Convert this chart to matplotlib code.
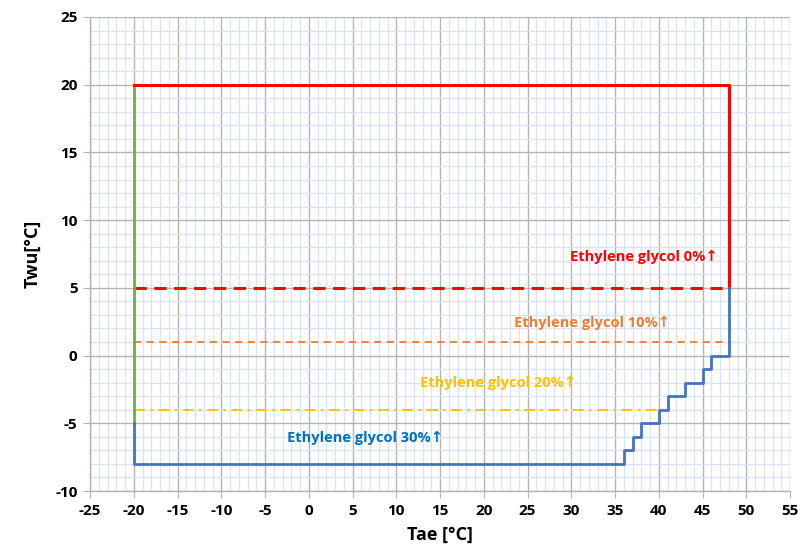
import matplotlib
matplotlib.use('Agg')
import matplotlib.pyplot as plt
from matplotlib.ticker import MultipleLocator

plt.rcParams['font.family'] = ['Open Sans', 'DejaVu Sans']
plt.rcParams['axes.unicode_minus'] = False

# --- data ---
tae_limits = [-25, 55]
twu_limits = [-10, 25]

# red envelope (0% glycol)
red_x = [-20, 48, 48]
red_y = [20, 20, 5]
# green left edge
green_x = [-20, -20]
green_y = [20, -5]
# dashed limit lines
gly0_x, gly0_y = [-20, 48], [5, 5]
gly10_x, gly10_y = [-20, 48], [1, 1]
gly20_x, gly20_y = [-20, 40], [-4, -4]
# blue staircase (30% glycol)
blue_x = [-20, -20, 36, 36, 37, 37, 38, 38, 40, 40, 41, 41, 43, 43, 45, 45, 46, 46, 48, 48]
blue_y = [-5, -8, -8, -7, -7, -6, -6, -5, -5, -4, -4, -3, -3, -2, -2, -1, -1, 0, 0, 5]

labels = ['Ethylene glycol 0%↑', 'Ethylene glycol 10%↑', 'Ethylene glycol 20%↑', 'Ethylene glycol 30%↑']
label_x = [38.3, 32.4, 21.6, 6.4]
label_y = [7.3, 2.4, -2.0, -6.1]
label_colors = ['#FF0000', '#ED7D31', '#FFC000', '#0070C0']

fig = plt.figure(figsize=(8.01, 5.53), dpi=100)
ax = fig.add_axes([0.1124, 0.1121, 0.8739, 0.8572])

ax.set_xlim(tae_limits)
ax.set_ylim(twu_limits)
ax.xaxis.set_major_locator(MultipleLocator(5))
ax.yaxis.set_major_locator(MultipleLocator(5))
ax.xaxis.set_minor_locator(MultipleLocator(1))
ax.yaxis.set_minor_locator(MultipleLocator(1))
ax.grid(which='minor', color='#DAE3F3', linewidth=0.9)
ax.grid(which='major', color='#B4B4B4', linewidth=1.0)
ax.set_axisbelow(True)

for s in ['top', 'right']:
    ax.spines[s].set_visible(False)
for s in ['left', 'bottom']:
    ax.spines[s].set_color('#B4B4B4')
    ax.spines[s].set_linewidth(1.0)

ax.tick_params(which='major', length=5, color='#B4B4B4', labelsize=11, pad=4)
ax.tick_params(which='minor', length=0)
for lab in ax.get_xticklabels() + ax.get_yticklabels():
    lab.set_fontweight('bold')

ax.plot(gly20_x, gly20_y, color='#FFC000', linewidth=1.3, linestyle=(0, (6, 3, 1.5, 3)))
ax.plot(gly10_x, gly10_y, color='#ED7D31', linewidth=1.3, linestyle=(0, (4, 3)))
ax.plot(gly0_x, gly0_y, color='#FF0000', linewidth=2.2, linestyle=(0, (4, 2.5)))
ax.plot(green_x, green_y, color='#70AD47', linewidth=2.0)
ax.plot(red_x, red_y, color='#FF0000', linewidth=2.2)
ax.plot(blue_x, blue_y, color='#4472C4', linewidth=2.0)

for t, x, y, c in zip(labels, label_x, label_y, label_colors):
    ax.text(x, y, t, color=c, fontsize=10.5, fontweight='bold', ha='center', va='center')

ax.set_xlabel('Tae [°C]', fontsize=13, fontweight='bold', labelpad=6)
ax.set_ylabel('Twu[°C]', fontsize=13, fontweight='bold', labelpad=10)

fig.savefig('out.png', dpi=100)
